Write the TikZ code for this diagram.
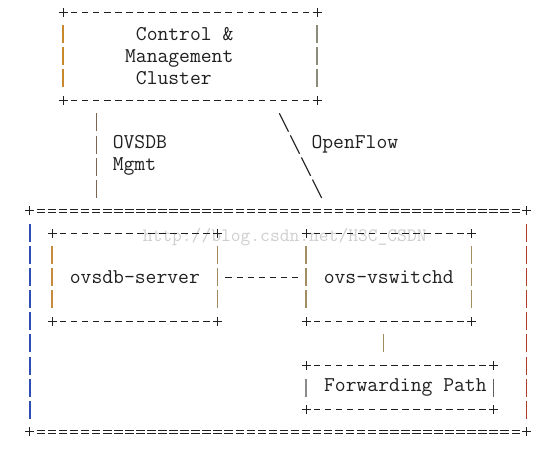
\documentclass[tikz,border=0pt]{standalone}
\usepackage{fontspec}
\newcommand\cellw{11.04pt}
\newcommand\rowh{22.1pt}
\definecolor{inkgray}{HTML}{202020}
\definecolor{wmgray}{HTML}{CFCFCF}
\definecolor{ctrlleft}{HTML}{C8882E}
\definecolor{ctrlright}{HTML}{8C8A78}
\definecolor{mgmtbar}{HTML}{7A6654}
\definecolor{outerleft}{HTML}{2E4EB4}
\definecolor{outerright}{HTML}{AC3E2A}
\definecolor{ovsdbleft}{HTML}{C48C3C}
\definecolor{ovsdbright}{HTML}{A08A5E}
\definecolor{swleft}{HTML}{A08E60}
\definecolor{swright}{HTML}{A08E60}
\definecolor{fwdleft}{HTML}{8A8A8A}
\definecolor{fwdright}{HTML}{5E5E5E}
\definecolor{midbar}{HTML}{9C8C5C}
\begin{document}
\begin{tikzpicture}[x=11.04pt, y=-22.1pt,
    asciitext/.style={font=\ttfamily\fontsize{21.03}{22.1}\selectfont, text=inkgray, inner sep=0pt, outer sep=0pt},
    asciibox/.style 2 args={asciitext, minimum width=#1*\cellw, minimum height=#2*\rowh},
    hdash/.style={draw=inkgray, line width=0.9pt, dash pattern=on 6.5pt off 4.54pt, shorten <=7.79pt, shorten >=7.79pt},
    hdouble/.style={draw=inkgray, line width=0.9pt, double=white, double distance=2.6pt, dash pattern=on 8.5pt off 2.54pt, shorten <=6.79pt, shorten >=6.79pt},
    vbar/.style={line width=1.3pt, dash pattern=on 18pt off 4.1pt, shorten <=13.05pt, shorten >=13.05pt},
    slash/.style={draw=inkgray, line width=1.1pt, dash pattern=on 20.6pt off 4.1pt, shorten <=14.41pt, shorten >=14.41pt},
    asciiplus/.pic={\draw[inkgray, line width=1pt] (-4.5pt,0pt) -- (4.5pt,0pt) (0pt,-4.5pt) -- (0pt,4.5pt);}]
    \fill[white] (-2.717,-0.543) rectangle (47.554,19.819);
    \useasboundingbox (-2.717,-0.543) rectangle (47.554,19.819);

    \node[font=\ttfamily\fontsize{19}{20}\selectfont, text=wmgray, anchor=west, inner sep=0pt] (watermark) at (10.2,10.2) {http://blog.csdn.net/H3C\_CSDN};

    \node[asciibox={23}{4}, align=left] (ctrl) at (14.5,2) {\hphantom{C}Control \&\\Management\hphantom{MM}\\\hphantom{C}Cluster};
    \node[asciibox={45}{10}] (outer) at (22.5,14) {};
    \node[asciibox={15}{4}] (ovsdb) at (9.5,12) {ovsdb-server};
    \node[asciibox={15}{4}] (vswitchd) at (32.5,12) {ovs-vswitchd};
    \node[asciibox={17}{2}] (fwd) at (33.5,17) {\hspace*{\cellw}Forwarding Path};

    \node[asciitext, anchor=west, align=left] (mgmtlabel) at (7.5,6.5) {OVSDB\\Mgmt};
    \node[asciitext, anchor=west] (flowlabel) at (25.5,6) {OpenFlow};

    \foreach \b/\lc/\rc in {ctrl/ctrlleft/ctrlright, ovsdb/ovsdbleft/ovsdbright, vswitchd/swleft/swright, fwd/fwdleft/fwdright} {
        \draw[hdash] (\b.north west) -- (\b.north east);
        \draw[hdash] (\b.south west) -- (\b.south east);
        \draw[vbar, draw=\lc] (\b.north west) -- (\b.south west);
        \draw[vbar, draw=\rc] (\b.north east) -- (\b.south east);
    }
    \draw[hdouble] (outer.north west) -- (outer.north east);
    \draw[hdouble] (outer.south west) -- (outer.south east);
    \draw[vbar, draw=outerleft] (outer.north west) -- (outer.south west);
    \draw[vbar, draw=outerright] (outer.north east) -- (outer.south east);
    \foreach \b in {ctrl, outer, ovsdb, vswitchd, fwd}
        \foreach \c in {north west, north east, south west, south east}
            \path (\b.\c) pic {asciiplus};

    \draw[vbar, draw=mgmtbar] ([xshift=3*\cellw]ctrl.south west) -- ([xshift=6*\cellw]outer.north west);
    \draw[slash] ([xshift=19*\cellw]ctrl.south west) -- ([xshift=27*\cellw]outer.north west);
    \draw[hdash] (ovsdb.east) -- (vswitchd.west);
    \draw[vbar, draw=midbar] ([xshift=7*\cellw]vswitchd.south west) -- ([xshift=7*\cellw]fwd.north west);
\end{tikzpicture}
\end{document}
